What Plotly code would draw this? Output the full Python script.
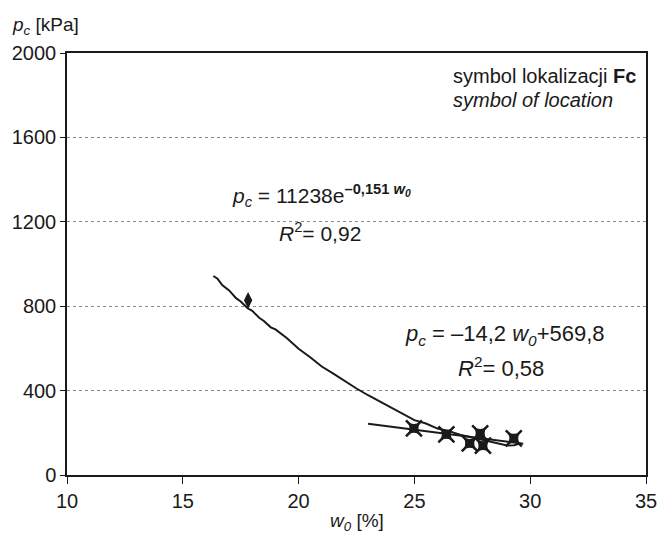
import plotly.graph_objects as go

# measured points (Fc)
w0_pts = [24.98, 26.38, 27.39, 27.84, 27.96, 29.29]
pc_pts = [221, 193, 150, 197, 139, 174]

# separate point (diamond)
w0_diam = [17.82]
pc_diam = [828]

# exponential trend curve
w0_exp = [16.32, 16.5, 16.7, 17.0, 17.3, 17.5, 17.8, 18.0, 18.3, 18.5, 18.8, 19.0,
          19.5, 20.0, 20.5, 21.0, 21.5, 22.0, 22.5, 23.0, 23.5, 24.0, 24.5, 25.0,
          25.5, 26.0, 26.5, 27.0, 27.5, 28.0, 28.5, 29.0, 29.3, 29.6]
pc_exp = [943, 930, 900, 875, 838, 822, 790, 778, 745, 730, 700, 690,
          648, 598, 558, 514, 480, 444, 410, 378, 348, 318, 292, 260,
          244, 220, 208, 190, 178, 166, 154, 140, 141, 150]

# linear trend line
w0_lin = [23.0, 29.7]
pc_lin = [243, 148]

FONT = "Liberation Sans, Arial, sans-serif"
INK = "#1a1a1a"

fig = go.Figure()
fig.add_trace(go.Scatter(x=w0_exp, y=pc_exp, mode="lines",
                         line=dict(color=INK, width=2), showlegend=False))
fig.add_trace(go.Scatter(x=w0_lin, y=pc_lin, mode="lines",
                         line=dict(color=INK, width=2), showlegend=False))
fig.add_trace(go.Scatter(x=w0_pts, y=pc_pts, mode="markers",
                         marker=dict(symbol="x-thin-open", size=16, color=INK,
                                     line=dict(width=2.5, color=INK)),
                         showlegend=False))
fig.add_trace(go.Scatter(x=w0_pts, y=pc_pts, mode="markers",
                         marker=dict(symbol="star-square", size=12, color=INK),
                         showlegend=False))
fig.add_trace(go.Scatter(x=w0_diam, y=pc_diam, mode="markers",
                         marker=dict(symbol="diamond-tall", size=12, color=INK),
                         showlegend=False))

ann = [
    dict(x=26.58, y=1891, text="symbol lokalizacji <b>Fc</b>", font=dict(size=20)),
    dict(x=26.58, y=1777, text="<i>symbol of location</i>", font=dict(size=20)),
    dict(x=17.02, y=1327,
         text="<i>p<sub>c</sub></i> = 11238e<sup><b>–0,151 <i>w<sub>0</sub></i></b></sup>",
         font=dict(size=21)),
    dict(x=19.06, y=1150, text="<i>R</i><sup>2</sup>= 0,92", font=dict(size=21)),
    dict(x=24.5, y=663,
         text="<i>p<sub>c</sub></i> = –14,2 <i>w<sub>0</sub></i>+569,8",
         font=dict(size=22)),
    dict(x=26.8, y=512, text="<i>R</i><sup>2</sup>= 0,58", font=dict(size=22)),
]
for a in ann:
    a.update(xref="x", yref="y", showarrow=False, yanchor="middle", xanchor="left")
    a["font"].update(color=INK, family=FONT)
    fig.add_annotation(**a)

fig.add_annotation(x=-0.098, y=1.0, xref="paper", yref="paper", xanchor="left",
                   yanchor="bottom", yshift=13, showarrow=False,
                   text="<i>p<sub>c</sub></i> [kPa]",
                   font=dict(size=19, color=INK, family=FONT))
fig.add_annotation(x=0.5, y=0, xref="paper", yref="paper", xanchor="center",
                   yanchor="top", yshift=-33, showarrow=False,
                   text="<i>w<sub>0</sub></i> [%]",
                   font=dict(size=19, color=INK, family=FONT))

fig.update_xaxes(range=[10, 35], tickvals=[10, 15, 20, 25, 30, 35],
                 showgrid=False, zeroline=False, showline=True, mirror=True,
                 linecolor=INK, linewidth=1.5, ticks="outside", ticklen=7,
                 tickcolor=INK, tickfont=dict(size=20, color=INK, family=FONT))
fig.update_yaxes(range=[0, 2000], tickvals=[0, 400, 800, 1200, 1600, 2000],
                 showgrid=True, gridcolor="#8a8a8a", griddash="3px,3px", gridwidth=1,
                 zeroline=False, showline=True, mirror=True,
                 linecolor=INK, linewidth=1.5, ticks="outside", ticklen=5,
                 tickcolor=INK, tickfont=dict(size=20, color=INK, family=FONT))

fig.update_layout(width=669, height=533, plot_bgcolor="white", paper_bgcolor="white",
                  margin=dict(l=67, r=14, t=53, b=58),
                  font=dict(family=FONT, color=INK))

fig.write_html("out.html")
